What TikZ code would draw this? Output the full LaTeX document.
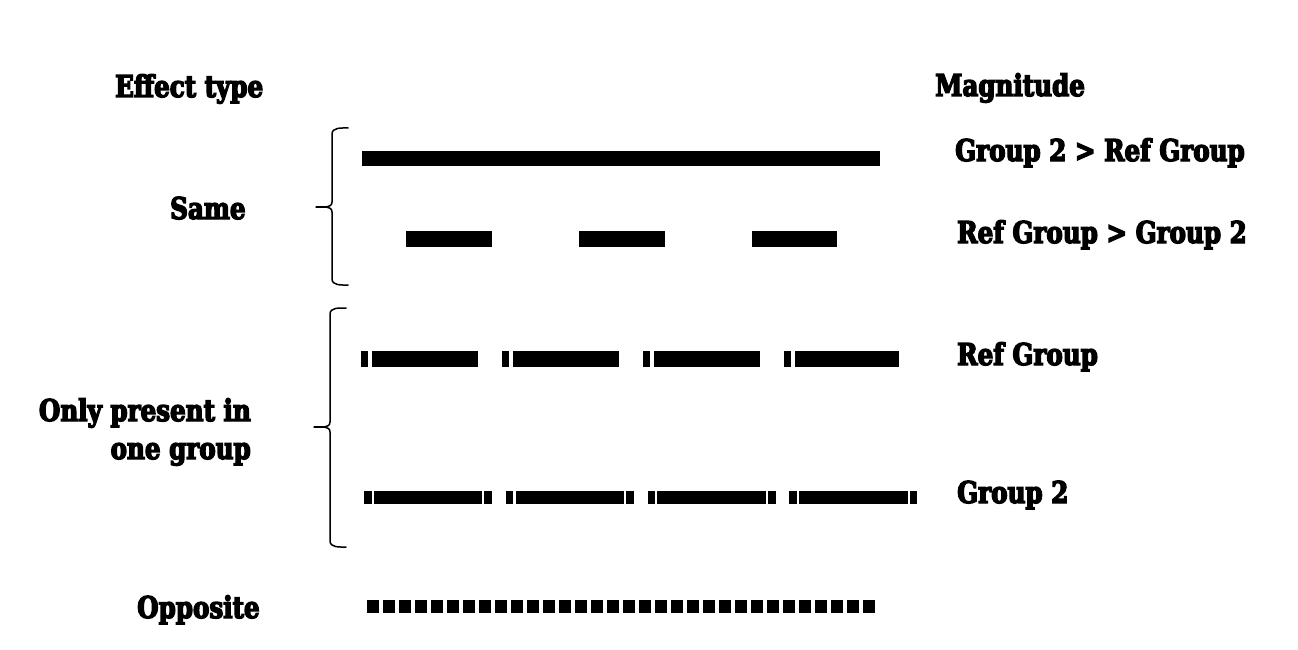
\documentclass[tikz,border=0pt]{standalone}
\usepackage{fontspec}
\newfontfamily\heavyfont{DejaVu Serif Bold}[FakeStretch=0.82,FakeBold=4.5]
\begin{document}
\begin{tikzpicture}[x=1pt,y=-1pt,
  lbl/.style={anchor=base west,inner sep=0pt,font=\fontsize{30}{38}\selectfont\heavyfont},
  bar/.style={line width=#1,line cap=butt},
  brace/.style={line width=1.5pt,line cap=round,line join=round}]
\useasboundingbox[fill=white] (0,0) rectangle (1298,650);
% headings
\node[lbl] (efftype) at (115,97) {Effect type};
\node[lbl] (magn) at (935,96) {Magnitude};
% left labels
\node[lbl] (same) at (170,219) {Same};
\node[lbl,align=right,anchor=base east] (only) at (251,459) {Only present in\\one group};
\node[lbl] (opp) at (137,618) {Opposite};
% right labels
\node[lbl] (g2gt) at (955,161) {Group 2 > Ref Group};
\node[lbl] (refgt) at (957,243) {Ref Group > Group 2};
\node[lbl] (ref) at (957,365) {Ref Group};
\node[lbl] (g2) at (957,503) {Group 2};
% braces
\draw[brace] (348,128) to[out=180,in=90] (332,134) -- (332,202)
  to[out=-90,in=0] (316,207) to[out=0,in=90] (332,212) -- (332,279)
  to[out=-90,in=180] (348,285);
\draw[brace] (346,308) to[out=180,in=90] (330,314) -- (330,422)
  to[out=-90,in=0] (314,427) to[out=0,in=90] (330,432) -- (330,541)
  to[out=-90,in=180] (346,547);
% lines
\draw[bar=15pt] (362,158) -- (880,158);
\draw[bar=16pt,dash pattern=on 86pt off 87pt] (406,239) -- (837,239);
\draw[bar=16pt,dash pattern=on 7pt off 4pt on 106pt off 24pt] (361,359) -- (899,359);
\draw[bar=13pt,dash pattern=on 7.5pt off 2.3pt on 108.3pt off 2.3pt on 7.5pt off 13.9pt] (364,497) -- (918,497);
\draw[bar=13pt,dash pattern=on 12pt off 4pt] (367,606.5) -- (875,606.5);
\end{tikzpicture}
\end{document}
